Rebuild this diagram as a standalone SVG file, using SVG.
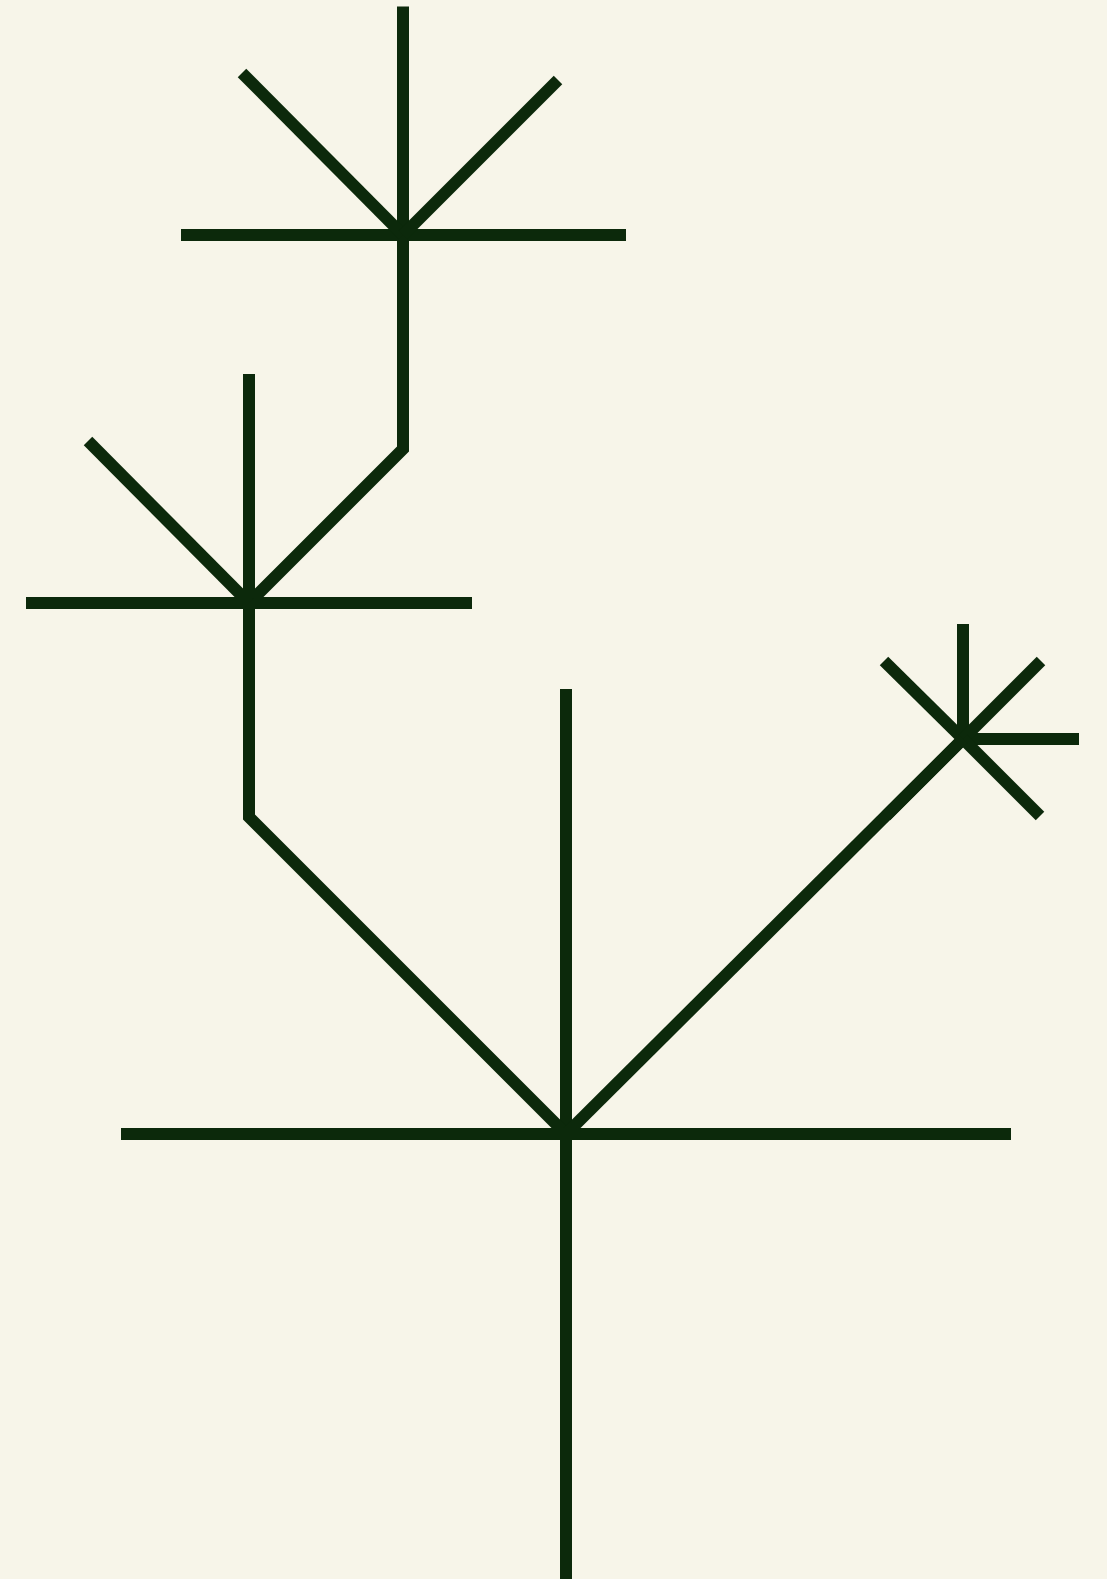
<svg xmlns="http://www.w3.org/2000/svg" width="1107" height="1579" viewBox="0 0 1107 1579">
<style>
.s{fill:none;stroke:#0c290b;stroke-width:12;stroke-linecap:butt;stroke-linejoin:miter}
</style>
<rect width="1107" height="1579" fill="#f7f5e9"/>
<g id="connectors" class="s">
<path d="M566 1579 V689"/>
<path d="M566 1134 L249 817 V603 L403 449 V235"/>
<path d="M566 1134 L963 739"/>
</g>
<g id="main-node" class="s">
<path d="M121 1134 H1011"/>
</g>
<g id="mid-node" class="s">
<path d="M26 603 H472"/>
<path d="M249 603 V374"/>
<path d="M249 603 L88 441"/>
</g>
<g id="top-node" class="s">
<path d="M181 235 H626"/>
<path d="M403 235 V6.5"/>
<path d="M403 235 L242 73"/>
<path d="M403 235 L558 80"/>
</g>
<g id="right-node" class="s">
<path d="M963 739 V624"/>
<path d="M963 739 H1079"/>
<path d="M963 739 L884 661"/>
<path d="M963 739 L1041 661"/>
<path d="M963 739 L1040 816"/>
<path d="M963 739 L886 816"/>
</g>
</svg>
